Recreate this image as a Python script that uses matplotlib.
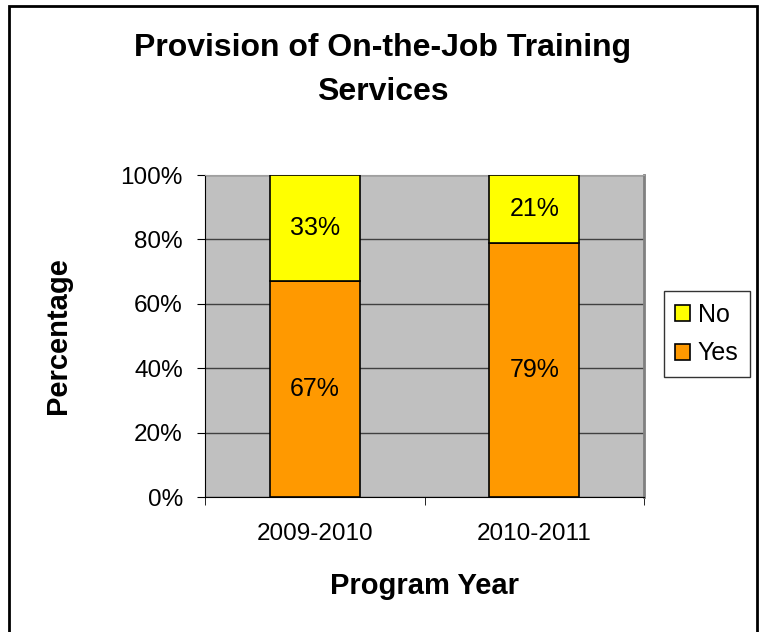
import numpy as np
import matplotlib.pyplot as plt
from matplotlib.patches import Rectangle

plt.rcParams['font.family'] = ['Liberation Sans', 'DejaVu Sans']

# Program years and percentage split
years = ['2009-2010', '2010-2011']
yes_pct = [67, 79]
no_pct = [33, 21]

fig = plt.figure(figsize=(7.59, 6.32), dpi=100)
ax = fig.add_axes([205/759, 1 - 497/632, 439/759, 322/632])
ax.set_facecolor('#C0C0C0')

x = np.arange(len(years))
w = 0.41
ax.bar(x, yes_pct, w, color='#FF9900', edgecolor='black', linewidth=1.2, label='Yes', zorder=3)
ax.bar(x, no_pct, w, bottom=yes_pct, color='#FFFF00', edgecolor='black', linewidth=1.2, label='No', zorder=3)

for i in range(len(years)):
    ax.text(x[i], yes_pct[i] / 2, f'{yes_pct[i]}%', ha='center', va='center', fontsize=18, zorder=4)
    ax.text(x[i], yes_pct[i] + no_pct[i] / 2, f'{no_pct[i]}%', ha='center', va='center', fontsize=18, zorder=4)

ax.set_xlim(-0.5, 1.5)
ax.set_ylim(0, 100)
ax.set_yticks(np.arange(0, 101, 20))
ax.set_yticklabels([f'{v}%' for v in range(0, 101, 20)], fontsize=17.5)
ax.yaxis.grid(True, color='#404040', linewidth=1, zorder=1)
ax.set_axisbelow(True)

ax.set_xticks(x)
ax.set_xticklabels(years, fontsize=17.5)
ax.set_xticks([-0.5, 0.5, 1.5], minor=True)
ax.tick_params(axis='x', which='major', length=0, pad=19)
ax.tick_params(axis='x', which='minor', length=6, direction='out', color='black')
ax.tick_params(axis='y', length=6, direction='out', pad=10)

for side in ['left', 'bottom']:
    ax.spines[side].set_color('black')
ax.spines['right'].set_color('#808080')
ax.spines['right'].set_linewidth(2)
ax.spines['top'].set_color('#A0A0A0')

ax.set_xlabel('Program Year', fontsize=21, fontweight='bold')
ax.set_ylabel('Percentage', fontsize=21, fontweight='bold')
ax.xaxis.set_label_coords(0.5, (497 - 586) / 322)
ax.xaxis.label.set_va('center')
ax.yaxis.set_label_coords((58 - 205) / 439, 0.5)
ax.yaxis.label.set_va('center')

fig.text(383/759, 1 - 48/632, 'Provision of On-the-Job Training', ha='center', va='center',
         fontsize=23, fontweight='bold')
fig.text(383/759, 1 - 92/632, 'Services', ha='center', va='center',
         fontsize=23, fontweight='bold')

handles, labels = ax.get_legend_handles_labels()
leg = fig.legend(handles[::-1], labels[::-1], loc='center left', bbox_to_anchor=(664/759, 1 - 334/632),
                 fontsize=18, frameon=True, fancybox=False, edgecolor='black', handlelength=0.6,
                 handleheight=0.6, handletextpad=0.3, borderpad=0.45, labelspacing=0.6, borderaxespad=0)
leg.get_frame().set_linewidth(1)

# outer chart border
fig.patches.append(Rectangle((9/759, -0.01), 748/759, 1 - 6/632 + 0.01, transform=fig.transFigure,
                             fill=False, edgecolor='black', linewidth=2))

fig.savefig('out.png', dpi=100)
